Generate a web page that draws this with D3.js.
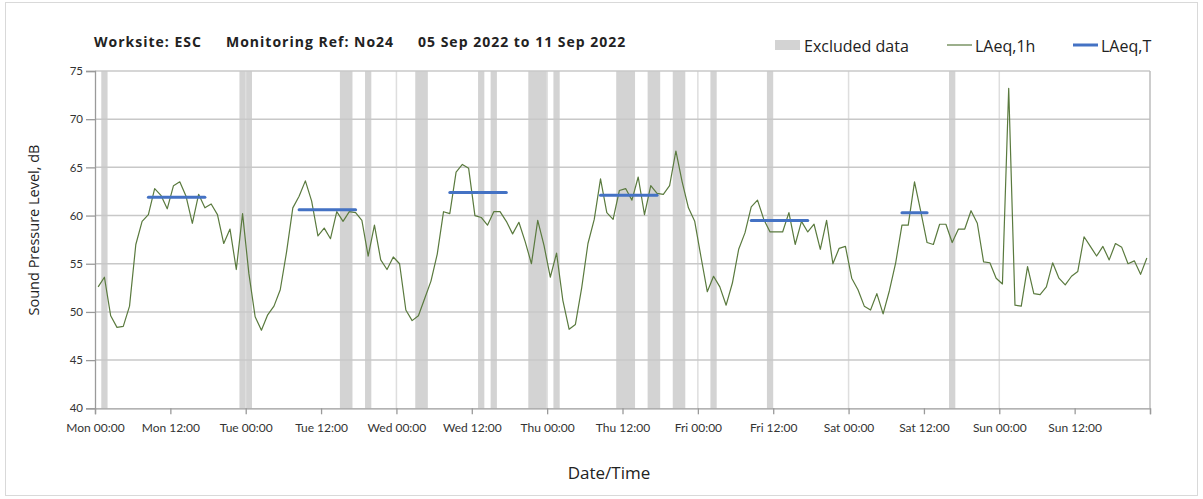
<!DOCTYPE html>
<meta charset="utf-8">
<title>Noise monitoring N024</title>
<style>
  body { margin: 0; background: #fff; font-family: "Open Sans", sans-serif; }
  svg text { fill: #222; }
</style>
<body>
<script src="https://cdn.jsdelivr.net/npm/d3@7"></script>
<script>

  // hourly LAeq,1h values, Mon 05 Sep 2022 00:00 onwards (one per hour)
  var laeq1h = [
    52.6, 53.6, 49.6, 48.4, 48.5, 50.6, 57.0, 59.4, 60.1, 62.8, 62.1, 60.7,
    63.1, 63.5, 62.0, 59.2, 62.2, 60.8, 61.2, 60.1, 57.1, 58.6, 54.4, 60.2,
    54.0, 49.5, 48.1, 49.7, 50.6, 52.3, 56.2, 60.8, 62.0, 63.6, 61.5, 57.9,
    58.7, 57.6, 60.4, 59.4, 60.4, 60.3, 59.5, 55.8, 59.0, 55.4, 54.4, 55.7,
    55.0, 50.2, 49.1, 49.6, 51.4, 53.2, 56.0, 60.4, 60.2, 64.5, 65.3, 64.9,
    60.0, 59.8, 59.0, 60.4, 60.4, 59.4, 58.1, 59.3, 57.3, 55.0, 59.5, 56.9,
    53.6, 56.1, 51.2, 48.2, 48.7, 52.5, 57.1, 59.6, 63.8, 60.3, 59.6, 62.6,
    62.8, 61.6, 64.0, 60.1, 63.1, 62.3, 62.2, 63.1, 66.7, 63.5, 60.8, 59.4,
    55.7, 52.1, 53.7, 52.6, 50.7, 53.0, 56.5, 58.2, 60.9, 61.6, 59.6, 58.3,
    58.3, 58.3, 60.3, 57.0, 59.4, 58.3, 59.1, 56.5, 59.5, 55.0, 56.6, 56.8,
    53.5, 52.3, 50.6, 50.2, 51.9, 49.8, 52.2, 55.1, 59.0, 59.0, 63.5, 60.4,
    57.2, 57.0, 59.1, 59.1, 57.2, 58.6, 58.6, 60.5, 59.2, 55.2, 55.1, 53.5,
    52.9, 73.2, 50.7, 50.6, 54.7, 51.9, 51.8, 52.6, 55.1, 53.5, 52.8, 53.7,
    54.2, 57.8, 56.8, 55.8, 56.8, 55.4, 57.1, 56.7, 55.0, 55.3, 53.9, 55.6
  ];

  // LAeq,T over the working periods (hour index of first and last hour)
  var periodStart = [8, 32, 56, 80, 104, 128];
  var periodEnd   = [17, 41, 65, 89, 113, 132];
  var periodLevel = [61.9, 60.6, 62.4, 62.1, 59.5, 60.3];

  // excluded data, [from hour, to hour]
  var excluded = [
    [1, 2], [23, 25], [39, 41], [43, 44], [51, 53], [61, 62], [63, 64],
    [69, 72], [73, 74], [83, 86], [88, 90], [92, 94], [98, 99], [107, 108],
    [136, 137]
  ];

  var yTicks = [40, 45, 50, 55, 60, 65, 70, 75];

  var start = new Date(2022, 8, 5, 0, 0);
  var end = new Date(2022, 8, 12, 0, 0);
  function hourDate(h) { return new Date(start.getTime() + h * 3600e3); }

  var width = 1203, height = 499,
      plotLeft = 95, plotRight = 1150, plotTop = 71, plotBottom = 408.3;

  var svg = d3.select("body").append("svg")
      .attr("width", width)
      .attr("height", height);

  svg.append("rect")
      .attr("x", 5.5).attr("y", 2.5)
      .attr("width", 1192).attr("height", 493)
      .attr("fill", "#fff").attr("stroke", "#d9d9d9");

  var x = d3.scaleTime().domain([start, end]).range([plotLeft, plotRight]);
  var y = d3.scaleLinear().domain([40, 75]).range([plotBottom, plotTop]);

  // excluded bands
  svg.append("g").selectAll("rect")
      .data(excluded)
      .enter().append("rect")
      .attr("x", function(d) { return x(hourDate(d[0])); })
      .attr("width", function(d) { return x(hourDate(d[1])) - x(hourDate(d[0])); })
      .attr("y", y(75))
      .attr("height", y(40) - y(75))
      .attr("fill", "#d3d3d3");

  // gridlines
  var midnights = d3.timeDay.range(start, end);
  svg.append("g").selectAll("line")
      .data(midnights.slice(1))
      .enter().append("line")
      .attr("x1", function(d) { return x(d); })
      .attr("x2", function(d) { return x(d); })
      .attr("y1", y(75)).attr("y2", y(40))
      .attr("stroke", "#dedede").attr("stroke-width", 1.5);

  svg.append("g").selectAll("line")
      .data(yTicks.slice(1))
      .enter().append("line")
      .attr("x1", plotLeft).attr("x2", plotRight)
      .attr("y1", function(d) { return y(d); })
      .attr("y2", function(d) { return y(d); })
      .attr("stroke", "#c8c8c8").attr("stroke-width", 1.5);

  svg.append("line")
      .attr("x1", plotRight).attr("x2", plotRight)
      .attr("y1", y(75)).attr("y2", y(40))
      .attr("stroke", "#bdbdbd").attr("stroke-width", 1.5);

  // axes
  var fmt = d3.timeFormat("%a %H:%M");
  var xAxis = d3.axisBottom(x)
      .tickValues(d3.timeHour.every(12).range(start, d3.timeHour.offset(end, 1)))
      .tickSize(6)
      .tickFormat(function(d) { return +d === +end ? "" : fmt(d); });

  var gx = svg.append("g")
      .attr("transform", "translate(0," + plotBottom + ")")
      .call(xAxis);
  gx.selectAll("text").attr("dy", "1.25em").style("font-size", "12px").style("fill", "#333");

  var gy = svg.append("g")
      .attr("transform", "translate(" + plotLeft + ",0)")
      .call(d3.axisLeft(y).tickValues(yTicks).tickSize(9).tickPadding(3));
  gy.selectAll("text").style("font-size", "11.5px").style("fill", "#333");

  svg.selectAll(".domain, .tick line")
      .attr("stroke", "#9a9a9a").attr("stroke-width", 1.3);
  svg.selectAll(".tick text").style("font-family", "Lato, sans-serif");

  // LAeq,1h line
  var line = d3.line()
      .x(function(d, i) { return x(hourDate(i + 0.5)); })
      .y(function(d) { return y(d); });

  svg.append("path")
      .datum(laeq1h)
      .attr("d", line)
      .attr("fill", "none")
      .attr("stroke", "#5a7a3e")
      .attr("stroke-width", 1.2)
      .attr("stroke-linejoin", "round");

  // LAeq,T bars
  svg.append("g").selectAll("line")
      .data(periodLevel)
      .enter().append("line")
      .attr("x1", function(d, i) { return x(hourDate(periodStart[i] + 0.5)); })
      .attr("x2", function(d, i) { return x(hourDate(periodEnd[i] + 0.5)); })
      .attr("y1", function(d) { return y(d); })
      .attr("y2", function(d) { return y(d); })
      .attr("stroke", "#4472c4")
      .attr("stroke-width", 3)
      .attr("stroke-linecap", "round");

  // title
  var title = svg.append("g")
      .style("font-weight", "bold")
      .style("font-size", "14px")
      .style("letter-spacing", "1px");
  title.append("text").attr("x", 94).attr("y", 47).text("Worksite: ESC");
  title.append("text").attr("x", 226).attr("y", 47).text("Monitoring Ref: No24");
  title.append("text").attr("x", 418).attr("y", 47).text("05 Sep 2022 to 11 Sep 2022");

  // legend
  var legend = svg.append("g").style("font-size", "16px");
  legend.append("rect").attr("x", 775).attr("y", 40).attr("width", 25).attr("height", 10).attr("fill", "#d3d3d3");
  legend.append("text").attr("x", 804).attr("y", 51.5).text("Excluded data");
  legend.append("line").attr("x1", 947).attr("x2", 972).attr("y1", 45).attr("y2", 45)
      .attr("stroke", "#5a7a3e").attr("stroke-width", 1.2);
  legend.append("text").attr("x", 975).attr("y", 51.5).text("LAeq,1h");
  legend.append("line").attr("x1", 1073).attr("x2", 1098).attr("y1", 45).attr("y2", 45)
      .attr("stroke", "#4472c4").attr("stroke-width", 3);
  legend.append("text").attr("x", 1101).attr("y", 51.5).text("LAeq,T");

  // axis titles
  svg.append("text")
      .attr("transform", "translate(39,230) rotate(-90)")
      .attr("text-anchor", "middle")
      .style("font-size", "14.5px")
      .text("Sound Pressure Level, dB");

  svg.append("text")
      .attr("x", 609).attr("y", 479)
      .attr("text-anchor", "middle")
      .style("font-size", "17px")
      .text("Date/Time");

</script>
</body>
